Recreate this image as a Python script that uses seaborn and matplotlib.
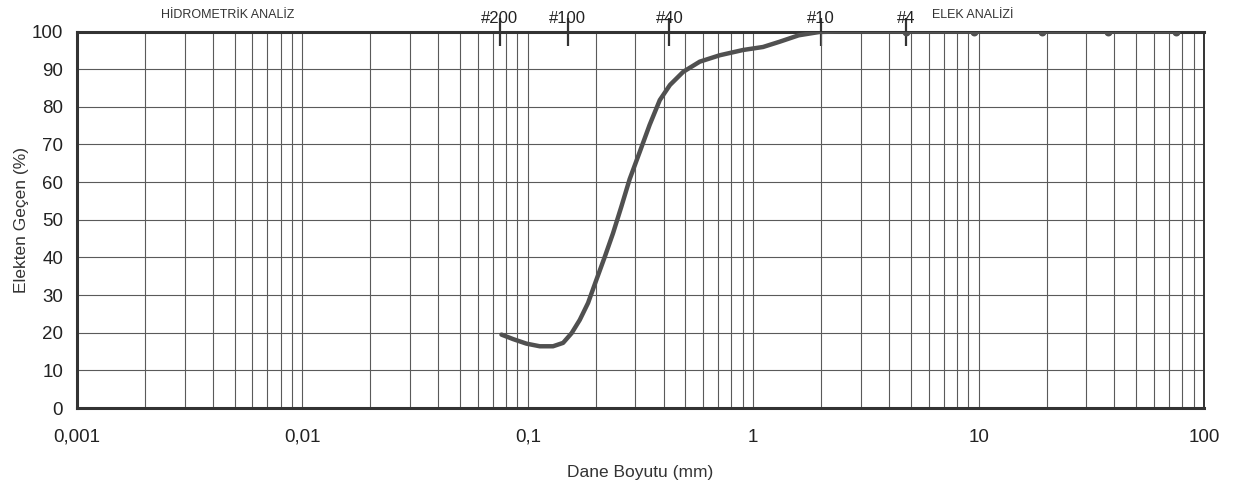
import matplotlib
matplotlib.use("Agg")
import matplotlib.pyplot as plt
import matplotlib.ticker as mticker
import seaborn as sns
import numpy as np

# grain size curve (mm, % passing)
dane_mm = [0.0764, 0.0861, 0.0986, 0.113, 0.1294, 0.1434, 0.1565, 0.170,
           0.185, 0.2016, 0.2196, 0.2387, 0.260, 0.283, 0.314, 0.347,
           0.385, 0.427, 0.489, 0.579, 0.710, 0.901, 1.105, 1.31, 1.59,
           1.97, 2.4, 4.75, 9.5, 19.0, 37.5, 75.0]
gecen = [19.5, 18.3, 17.1, 16.4, 16.4, 17.3, 19.9, 23.4,
         27.9, 34.1, 40.2, 46.4, 53.5, 60.8, 68.1, 75.2,
         81.8, 85.8, 89.3, 92.0, 93.7, 95.1, 95.9, 97.3, 99.0,
         99.9, 100.0, 100.0, 100.0, 100.0, 100.0, 100.0]

# coarse sieves marked with dots
elek_mm = [4.75, 9.5, 19.0, 37.5, 75.0]
elek_gecen = [100, 100, 100, 100, 100]

# sieve numbers on the top edge
elek_no = ["#200", "#100", "#40", "#10", "#4"]
elek_no_mm = [0.075, 0.15, 0.425, 2.0, 4.75]

x_ticks = [0.001, 0.01, 0.1, 1, 10, 100]
x_labels = ["0,001", "0,01", "0,1", "1", "10", "100"]

sns.set_style("white")
plt.rcParams["font.family"] = ["Liberation Sans", "DejaVu Sans"]

fig = plt.figure(figsize=(12.35, 4.93), dpi=100)
ax = fig.add_axes([0.0623, 0.1724, 0.9127, 0.7636])

ax.set_xscale("log")
ax.set_xlim(0.001, 100)
ax.set_ylim(0, 100)

grid_c = "#5a5a5a"
ax.xaxis.set_major_locator(mticker.FixedLocator(x_ticks))
ax.xaxis.set_minor_locator(mticker.LogLocator(base=10, subs=np.arange(2, 10)))
ax.xaxis.set_minor_formatter(mticker.NullFormatter())
ax.set_xticklabels(x_labels)
ax.set_yticks(range(0, 101, 10))
ax.grid(True, which="both", axis="x", color=grid_c, lw=0.8)
ax.grid(True, which="major", axis="y", color=grid_c, lw=0.8)

sns.lineplot(x=dane_mm, y=gecen, ax=ax, sort=False, estimator=None,
             color="#505050", lw=3.2, zorder=5)
ax.scatter(elek_mm, elek_gecen, s=22, color="#505050", zorder=6)

for side in ["left", "bottom", "top"]:
    ax.spines[side].set_linewidth(2.2)
    ax.spines[side].set_color("#333333")
ax.spines["right"].set_linewidth(1.4)
ax.spines["right"].set_color("#333333")

ax.tick_params(axis="both", which="major", direction="out", length=7,
               width=1.2, color="#333333", labelsize=13.5, labelcolor="#222222")
ax.tick_params(axis="x", which="minor", direction="out", length=6,
               width=1.2, color="#333333")
ax.tick_params(axis="x", which="major", pad=8)
ax.tick_params(axis="y", which="major", pad=3)

ax.set_xlabel("Dane Boyutu (mm)", fontsize=12.5, color="#333333", labelpad=14)
ax.set_ylabel("Elekten Geçen (%)", fontsize=12.5, color="#333333", labelpad=2)

# sieve markers on the top edge
top = ax.secondary_xaxis("top")
top.set_xticks(elek_no_mm)
top.set_xticklabels(elek_no)
top.xaxis.set_minor_locator(mticker.NullLocator())
top.tick_params(axis="x", which="major", direction="inout", length=20,
                width=1.6, color="#333333", labelsize=12, pad=-6,
                labelcolor="#222222")
top.spines["top"].set_visible(False)

ax.text(0.00468, 102.8, "HİDROMETRİK ANALİZ", fontsize=9, color="#333333",
        ha="center", va="bottom", clip_on=False)
ax.text(6.2, 102.8, "ELEK ANALİZİ", fontsize=9, color="#333333",
        ha="left", va="bottom", clip_on=False)

fig.savefig("out.png", dpi=100)
